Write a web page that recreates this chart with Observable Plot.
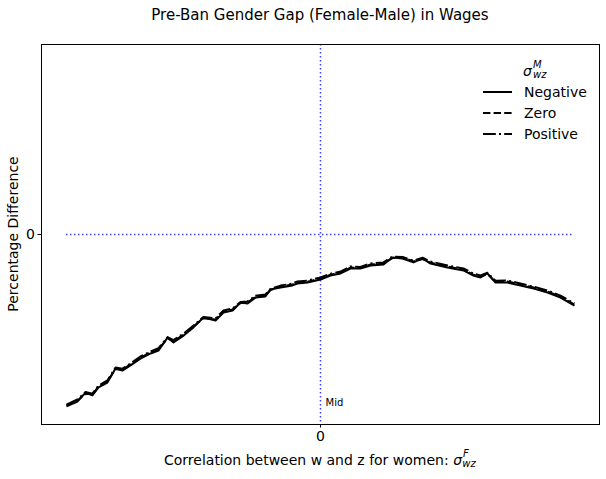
<!DOCTYPE html>
<html>
<head>
<meta charset="utf-8">
<script src="https://cdn.jsdelivr.net/npm/d3@7"></script>
<script src="https://cdn.jsdelivr.net/npm/@observablehq/plot@0.6"></script>
<style>
  html, body { margin: 0; padding: 0; background: white; }
  #chart { width: 606px; height: 479px; }
</style>
</head>
<body>
<div id="chart"></div>
<script>
// ---- data ----
const titleText = "Pre-Ban Gender Gap (Female-Male) in Wages";
const yLabel = "Percentage Difference";
const xLabelMain = "Correlation between w and z for women: ";
const seriesNames = ["Negative", "Zero", "Positive"];
const seriesDash = ["none", "7.4,3.2", "12.8,3.2,2,3.2"];
const xTicks = [0];
const yTicks = [0];
const tickLabels = ["0"];
const midLabel = ["Mid"];

const corrF = [-1.000,-0.957,-0.925,-0.898,-0.874,-0.839,-0.807,-0.780,-0.748,-0.709,
  -0.669,-0.638,-0.602,-0.579,-0.539,-0.500,-0.461,-0.413,-0.382,-0.346,
  -0.315,-0.287,-0.256,-0.217,-0.197,-0.157,-0.110,-0.091,-0.051,0.000,
  0.039,0.079,0.118,0.157,0.197,0.248,0.283,0.323,0.366,0.402,
  0.433,0.500,0.563,0.602,0.630,0.657,0.689,0.736,0.787,0.839,
  0.894,0.945,1.000];

const gapNegative = [-0.905,-0.879,-0.832,-0.847,-0.805,-0.779,-0.705,-0.716,-0.689,-0.653,
  -0.626,-0.611,-0.542,-0.568,-0.532,-0.489,-0.437,-0.453,-0.411,-0.400,
  -0.358,-0.363,-0.332,-0.326,-0.289,-0.279,-0.268,-0.258,-0.253,-0.237,
  -0.216,-0.205,-0.179,-0.179,-0.163,-0.158,-0.121,-0.126,-0.147,-0.126,
  -0.153,-0.174,-0.189,-0.216,-0.226,-0.205,-0.253,-0.253,-0.268,-0.284,
  -0.305,-0.332,-0.374];
const gapZero = [-0.900,-0.874,-0.838,-0.842,-0.800,-0.772,-0.708,-0.711,-0.684,-0.648,
  -0.621,-0.603,-0.547,-0.561,-0.527,-0.484,-0.441,-0.447,-0.406,-0.394,
  -0.361,-0.357,-0.328,-0.321,-0.292,-0.274,-0.263,-0.253,-0.249,-0.232,
  -0.212,-0.200,-0.174,-0.176,-0.158,-0.153,-0.124,-0.121,-0.142,-0.129,
  -0.148,-0.169,-0.185,-0.212,-0.221,-0.208,-0.249,-0.247,-0.263,-0.279,
  -0.300,-0.328,-0.368];
const gapPositive = [-0.895,-0.868,-0.829,-0.838,-0.795,-0.768,-0.700,-0.706,-0.679,-0.642,
  -0.616,-0.598,-0.540,-0.556,-0.521,-0.479,-0.434,-0.442,-0.400,-0.389,
  -0.355,-0.352,-0.322,-0.316,-0.286,-0.269,-0.258,-0.247,-0.243,-0.226,
  -0.207,-0.195,-0.168,-0.171,-0.152,-0.147,-0.116,-0.118,-0.137,-0.122,
  -0.142,-0.163,-0.179,-0.206,-0.216,-0.201,-0.243,-0.242,-0.258,-0.274,
  -0.295,-0.322,-0.363];

const seriesValues = [gapNegative, gapZero, gapPositive];

// ---- build ----
const xMin = d3.min(corrF), xMax = d3.max(corrF);
const pad = (xMax - xMin) * 0.0492;
const FONT = "DejaVu Sans, sans-serif";

const lineMarks = seriesNames.map((name, i) => {
  const rows = corrF.map((x, j) => ({series: name, x, y: seriesValues[i][j]}));
  return Plot.line(rows, {x: "x", y: "y", stroke: "black", strokeWidth: 2,
    strokeDasharray: seriesDash[i], strokeLinejoin: "round", strokeLinecap: "butt"});
});

const chart = Plot.plot({
  width: 606, height: 479,
  marginLeft: 41, marginRight: 7, marginTop: 44, marginBottom: 55,
  style: {fontFamily: FONT, fontSize: "14px", background: "white", color: "black"},
  x: {domain: [xMin - pad, xMax + pad]},
  y: {domain: [-1, 1]},
  marks: [
    Plot.ruleY(yTicks, {x1: xMin, x2: xMax, stroke: "#0000ff", strokeOpacity: 0.75, strokeWidth: 1.5, strokeDasharray: "1.5,2.5"}),
    Plot.ruleX(xTicks, {stroke: "#0000ff", strokeOpacity: 0.75, strokeWidth: 1.5, strokeDasharray: "1.5,2.5"}),
    ...lineMarks,
    Plot.text(midLabel, {x: () => xTicks[0], text: d => d, frameAnchor: "bottom", dy: -19, dx: 5, textAnchor: "start", fontSize: 10, fill: "black"}),
    Plot.frame({stroke: "black", strokeWidth: 1}),
    Plot.axisX(xTicks, {tickSize: 3.5, tickPadding: 3, label: null, fontSize: 14, tickFormat: (d, i) => tickLabels[i]}),
    Plot.axisY(yTicks, {tickSize: 3.5, tickPadding: 3, label: null, fontSize: 14, tickFormat: (d, i) => tickLabels[i]})
  ]
});
document.getElementById("chart").appendChild(chart);

const svg = d3.select(chart);

// title
svg.append("text").attr("x", 320).attr("y", 20).attr("text-anchor", "middle")
  .attr("font-family", FONT).attr("font-size", 15).attr("fill", "black").text(titleText);

// y label
svg.append("text").attr("transform", "translate(18,234) rotate(-90)").attr("text-anchor", "middle")
  .attr("font-family", FONT).attr("font-size", 14).attr("fill", "black").text(yLabel);

// x label with math
const xl = svg.append("text").attr("x", 164).attr("y", 465).attr("text-anchor", "start")
  .attr("font-family", FONT).attr("font-size", 14).attr("fill", "black");
xl.append("tspan").text(xLabelMain);
xl.append("tspan").attr("font-style", "italic").text("σ");
xl.append("tspan").attr("font-style", "italic").attr("font-size", 10).attr("dy", -8).attr("dx", 1).text("F");
xl.append("tspan").attr("font-style", "italic").attr("font-size", 10).attr("dy", 10).attr("dx", -6.5).text("wz");

// legend
const lg = svg.append("g").attr("font-family", FONT).attr("fill", "black").attr("text-anchor", "start");
const lt = lg.append("text").attr("x", 523).attr("y", 76).attr("font-size", 14);
lt.append("tspan").attr("font-style", "italic").text("σ");
lt.append("tspan").attr("font-style", "italic").attr("font-size", 10).attr("dy", -8).attr("dx", 1).text("M");
lt.append("tspan").attr("font-style", "italic").attr("font-size", 10).attr("dy", 10).attr("dx", -8.5).text("wz");
seriesNames.forEach((name, i) => {
  const yy = 92 + i * 21;
  lg.append("line").attr("x1", 483).attr("x2", 512).attr("y1", yy).attr("y2", yy)
    .attr("stroke", "black").attr("stroke-width", 2)
    .attr("stroke-dasharray", seriesDash[i]);
  lg.append("text").attr("x", 524).attr("y", yy + 5).attr("font-size", 14).text(name);
});
</script>
</body>
</html>
